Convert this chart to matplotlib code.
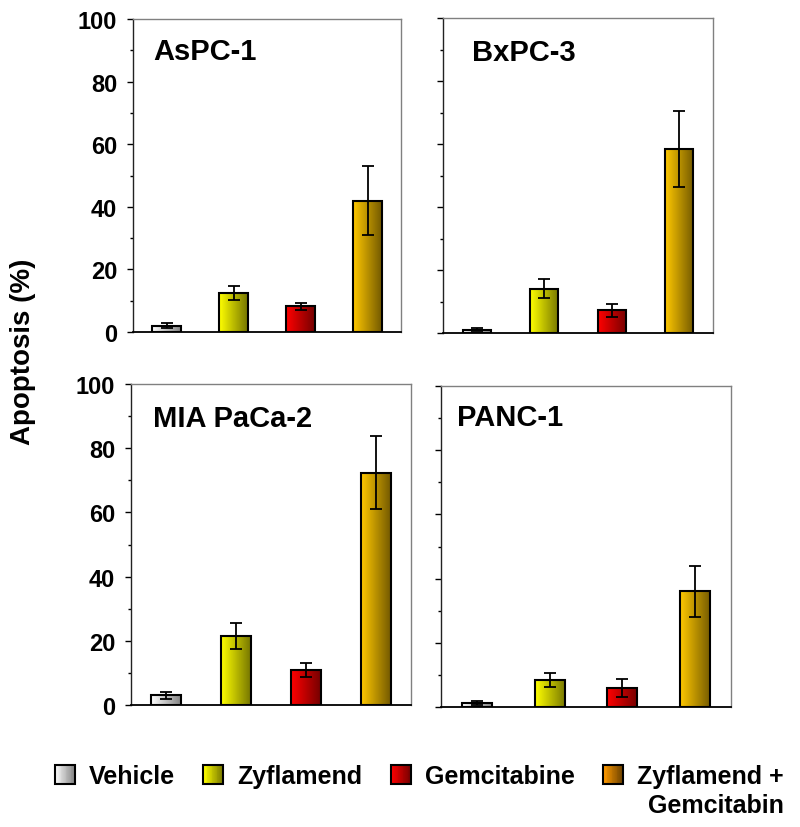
import matplotlib
matplotlib.use("Agg")
import matplotlib.pyplot as plt
import numpy as np
from matplotlib.colors import LinearSegmentedColormap, to_rgb
from matplotlib.legend_handler import HandlerBase
from matplotlib.patches import Patch, Rectangle
from matplotlib.ticker import MultipleLocator

plt.rcParams["font.family"] = ["Liberation Sans", "DejaVu Sans"]
plt.rcParams["font.weight"] = "bold"

# data ##############################################################
cell_lines = ["AsPC-1", "BxPC-3", "MIA PaCa-2", "PANC-1"]
treatments = ["Vehicle", "Zyflamend", "Gemcitabine", "Zyflamend +"]
apoptosis = [
    [2.0, 12.4, 8.2, 42.0],
    [1.0, 14.1, 7.2, 58.5],
    [3.1, 21.5, 11.0, 72.4],
    [1.3, 8.3, 5.9, 36.0],
]
errors = [
    [0.8, 2.2, 1.1, 11.0],
    [0.5, 3.1, 2.1, 12.0],
    [1.1, 4.0, 2.2, 11.4],
    [0.6, 2.2, 2.8, 8.0],
]
y_ticks = [0, 20, 40, 60, 80, 100]

# styling / layout ###################################################
bar_grad = [("#ffffff", "#858585"), ("#ffff00", "#777700"),
            ("#ff0000", "#750000"), ("#ffc800", "#745a00")]
legend_grad = [("#ffffff", "#858585"), ("#ffff00", "#777700"),
               ("#ff0000", "#750000"), ("#ff9a00", "#6a4000")]
panel_rects = [
    [0.16625, 0.5978, 0.335, 0.378],
    [0.55375, 0.5966, 0.3375, 0.3804],
    [0.16375, 0.1473, 0.350, 0.3877],
    [0.55125, 0.1449, 0.3625, 0.3877],
]
title_pos = [(0.075, 0.872), (0.106, 0.868), (0.080, 0.870), (0.054, 0.878)]


class GradientHandler(HandlerBase):
    def __init__(self, c0, c1, n=24):
        super().__init__()
        self.c0, self.c1, self.n = np.array(to_rgb(c0)), np.array(to_rgb(c1)), n

    def create_artists(self, legend, orig_handle, xdescent, ydescent,
                       width, height, fontsize, trans):
        arts = []
        w = width / self.n
        for i in range(self.n):
            t = i / (self.n - 1)
            c = self.c0 * (1 - t) + self.c1 * t
            arts.append(Rectangle((-xdescent + i * w, -ydescent), w * 1.05, height,
                                  facecolor=c, edgecolor="none", antialiased=False,
                                  transform=trans))
        arts.append(Rectangle((-xdescent, -ydescent), width, height, facecolor="none",
                              edgecolor="black", linewidth=1.5, transform=trans))
        return arts


fig = plt.figure(figsize=(8, 8.28), dpi=100)

x = np.arange(len(treatments))
axes = []
for k, name in enumerate(cell_lines):
    ax = fig.add_axes(panel_rects[k])
    axes.append(ax)
    bars = ax.bar(x, apoptosis[k], width=0.42, facecolor="none",
                  edgecolor="black", linewidth=1.5, zorder=3)
    for bar, (c0, c1) in zip(bars, bar_grad):
        cmap = LinearSegmentedColormap.from_list("g", [c0, c1])
        ax.imshow(np.linspace(0, 1, 64).reshape(1, -1), cmap=cmap, aspect="auto",
                  interpolation="bilinear", zorder=2,
                  extent=[bar.get_x(), bar.get_x() + bar.get_width(), 0, bar.get_height()])
    ax.errorbar(x, apoptosis[k], yerr=errors[k], fmt="none", ecolor="black",
                elinewidth=1.3, capsize=4, capthick=1.3, zorder=4)

    ax.set_xlim(-0.5, 3.5)
    ax.set_ylim(0, 100)
    ax.set_xticks([])
    ax.set_yticks(y_ticks)
    ax.yaxis.set_minor_locator(MultipleLocator(10))
    ax.tick_params(axis="y", which="major", length=4.5, width=1, direction="out", pad=7)
    ax.tick_params(axis="y", which="minor", length=2.2, width=1, direction="out")
    if k % 2 == 0:
        ax.set_yticklabels([str(t) for t in y_ticks], fontweight="bold", fontsize=17)
    else:
        ax.tick_params(axis="y", labelleft=False)

    ax.spines["top"].set_color("#808080")
    ax.spines["right"].set_color("#808080")
    ax.spines["top"].set_linewidth(1)
    ax.spines["right"].set_linewidth(1)
    ax.spines["left"].set_color("#222222")
    ax.spines["left"].set_linewidth(1)
    ax.spines["bottom"].set_linewidth(1.3)

    ax.text(title_pos[k][0], title_pos[k][1], name, transform=ax.transAxes,
            fontsize=21, fontweight="bold", va="baseline", ha="left")

fig.text(0.029, 0.575, "Apoptosis (%)", rotation=90, va="center", ha="center",
         fontsize=20, fontweight="bold")

handles = [Patch(label=t) for t in treatments]
hmap = {h: GradientHandler(*g) for h, g in zip(handles, legend_grad)}
leg = fig.legend(handles=handles, handler_map=hmap, loc="center",
                 bbox_to_anchor=(0.524, 0.0616), ncol=4, frameon=False,
                 prop={"size": 18, "weight": "bold"}, handlelength=0.8,
                 handleheight=0.8, handletextpad=0.55, columnspacing=1.15,
                 borderpad=0, borderaxespad=0)

fig.canvas.draw()
renderer = fig.canvas.get_renderer()
bb = leg.get_texts()[3].get_window_extent(renderer)
fs_px = 18 * fig.dpi / 72
px, py = fig.transFigure.inverted().transform((bb.x1, bb.y0 - 0.2 * fs_px))
fig.text(px, py, "Gemcitabin", ha="right", va="top", fontsize=18, fontweight="bold")

fig.savefig("out.png", dpi=100)
